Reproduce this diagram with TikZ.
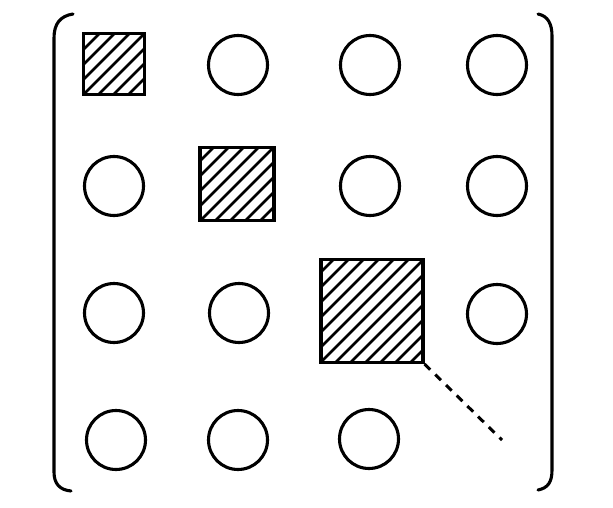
\documentclass[tikz,border=0pt]{standalone}
\begin{document}
\begin{tikzpicture}[x=1pt,y=-1pt,
  ring/.style={circle,draw,line width=3.1pt,minimum size=59pt,inner sep=0pt},
  hatchbox/.style={rectangle,draw,line width=3.1pt,inner sep=0pt,
    path picture={\foreach \k in {-12,...,12}{\draw[line width=2.8pt]
      ([xshift=\k*15pt]path picture bounding box.center) ++(-120pt,-120pt) -- ++(240pt,240pt);}}},
  brace/.style={line width=3.1pt,line cap=round},
  diag/.style={line width=3pt,dash pattern=on 8pt off 7pt}]
\useasboundingbox (0,0) rectangle (613,508);
% brackets
\draw[brace] (73,14) .. controls (60,16) and (54,24) .. (54,38) -- (54,472) .. controls (54,484) and (60,490) .. (71,491);
\draw[brace] (538,14) .. controls (548,16) and (552,24) .. (552,36) -- (552,470) .. controls (552,482) and (548,488) .. (538,490);
% row 1
\node[hatchbox,minimum width=61pt,minimum height=61pt] (s1) at (114,64) {};
\node[ring] (c12) at (238,65) {};
\node[ring] (c13) at (370,65) {};
\node[ring] (c14) at (497,65) {};
% row 2
\node[ring] (c21) at (114,186) {};
\node[hatchbox,minimum width=74pt,minimum height=73pt] (s2) at (237,184) {};
\node[ring] (c23) at (370,186) {};
\node[ring] (c24) at (497,186) {};
% row 3
\node[ring] (c31) at (114,313) {};
\node[ring] (c32) at (239,313) {};
\node[hatchbox,minimum width=102pt,minimum height=103pt] (s3) at (372,311) {};
\node[ring] (c34) at (497,314) {};
% row 4
\node[ring] (c41) at (116,440) {};
\node[ring] (c42) at (238,440) {};
\node[ring] (c43) at (369,439) {};
\coordinate (dend) at (502,440);
\draw[diag] (s3.south east) -- (dend);
\end{tikzpicture}
\end{document}
